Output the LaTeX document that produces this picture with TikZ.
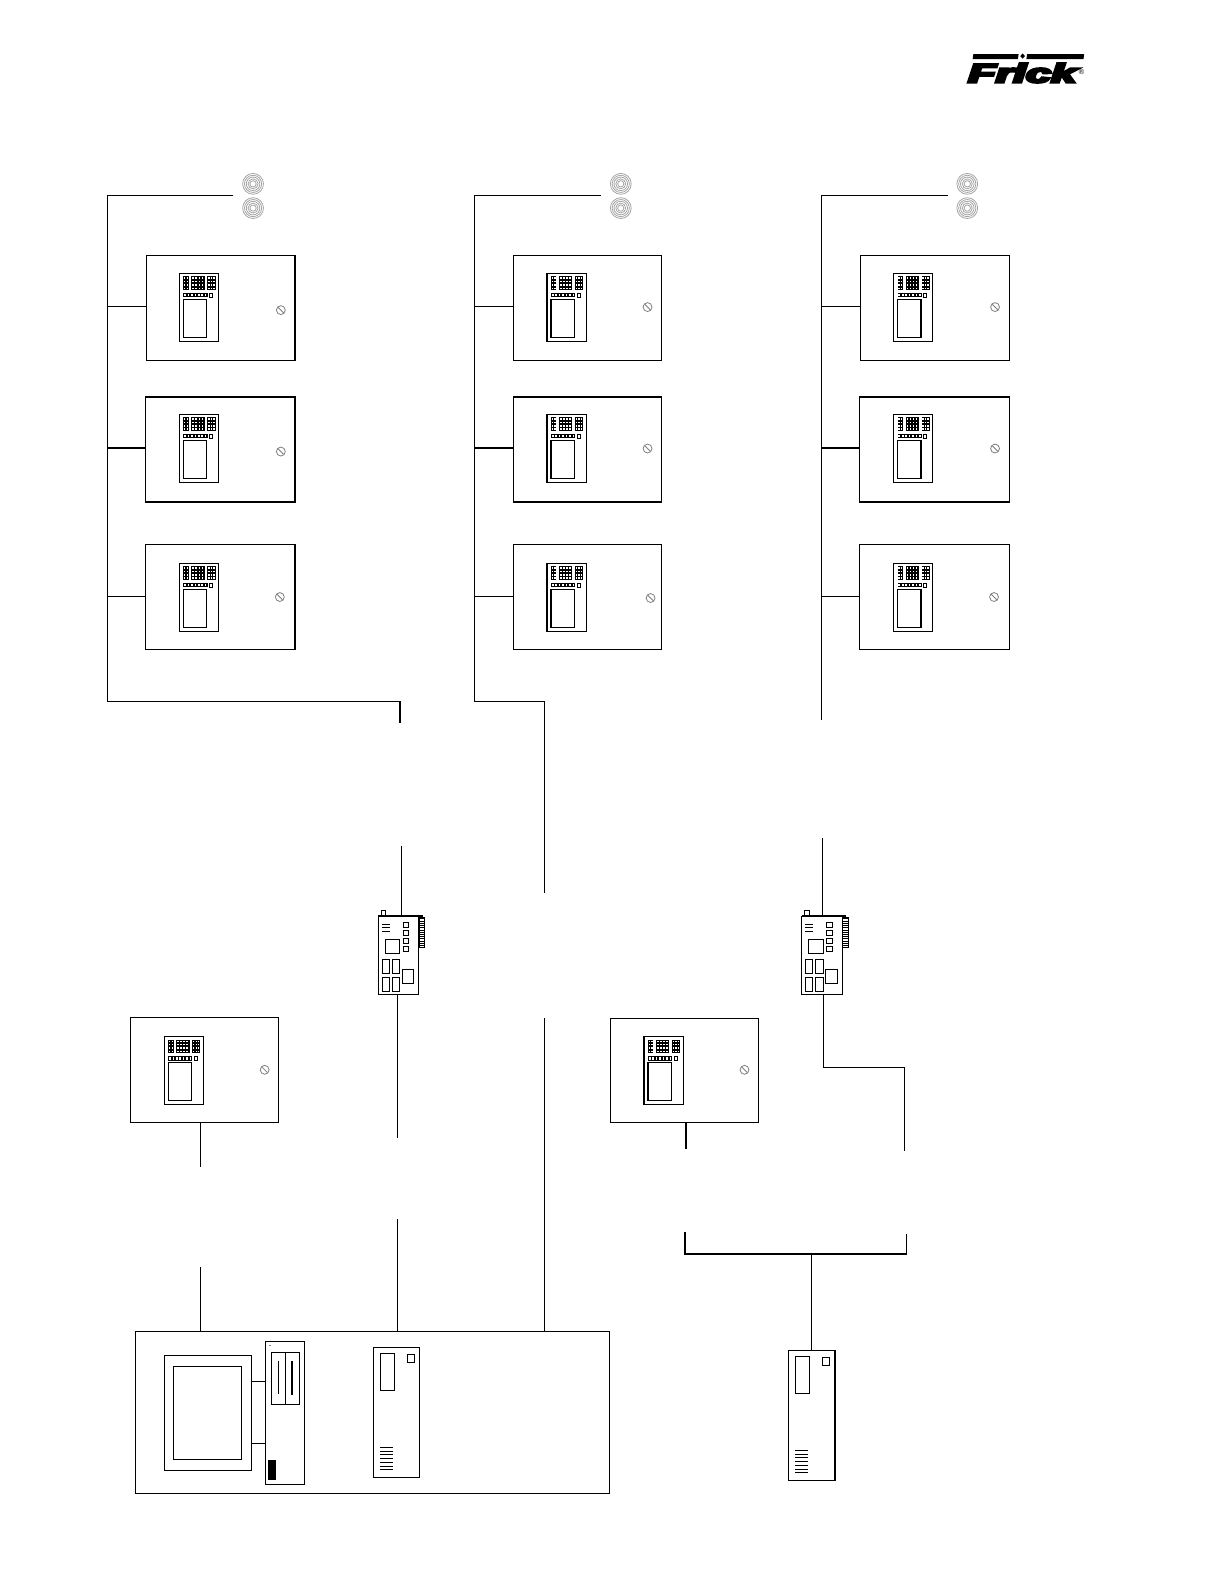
\documentclass[tikz,border=0pt]{standalone}
\usepackage{fontspec}
\newfontfamily\logofont[FakeBold=9]{Liberation Sans}
\newfontfamily\regfont{Liberation Sans}
\newlength\pxu
\setlength\pxu{0.50495pt}
\tikzset{
  ln/.style={line width=0.6pt,draw=black},
  thin part/.style={line width=0.5pt,draw=black,fill=white},
  boxnode/.style={rectangle,draw=black,line width=0.6pt,fill=white,inner sep=0pt,outer sep=0pt,anchor=north west},
  ring/.style={draw=black!35,line width=0.4pt},
  keypad/.pic={
    \draw[thin part,line width=0.6pt] (0,0) rectangle (38.9,67.3);
    % key blocks
    \fill[black] (4,3) rectangle (9.3,16.8);
    \foreach \cx in {4.9,7.3}\foreach \cy in {4.1,7.4,10.7,14}
      \fill[white] (\cx,\cy) rectangle +(1.1,1.5);
    \fill[black] (11.9,3) rectangle (25.1,16.8);
    \foreach \cx in {13,16,19,22}\foreach \cy in {4.1,7.4,10.7,14}
      \fill[white] (\cx,\cy) rectangle +(1.6,1.5);
    \fill[black] (27.7,3) rectangle (35.9,16.8);
    \foreach \cx in {28.6,31.1,33.6}\foreach \cy in {4.1,7.4,10.7,14}
      \fill[white] (\cx,\cy) rectangle +(1.3,1.5);
    % strip of buttons
    \fill[black] (4,19.8) rectangle (28,23.8);
    \foreach \cx in {4.9,8.3,11.7,15.1,18.5,21.9,25.3}
      \fill[white] (\cx,20.7) rectangle +(1.6,2.2);
    \draw[thin part] (29.7,20.1) rectangle (33,23.8);
    \draw[thin part,line width=0.6pt] (4,25.7) rectangle (27.1,63.4);
  },
  knobmark/.pic={
    \draw[draw=black!50,line width=0.4pt] (0,0) circle (4.4);
    \draw[draw=black!50,line width=0.4pt] (-2.8,-2.8) -- (2.8,2.8);
  },
  speakermark/.pic={
    \foreach \r in {10.3,8.5,6.7,4.9,3.1}\draw[ring] (0,0) circle (\r);
  },
  device/.pic={
    \fill[black] (0,-1.6) rectangle (43.9,0.4);
    \draw[thin part] (3,-6) rectangle (7.3,-1);
    \draw[thin part,line width=0.4pt] (40.4,1) rectangle (46,30.4);
    \foreach \s in {2.6,4.8,...,29} \draw[line width=0.4pt] (40.4,\s) -- (46,\s);
    \foreach \s in {8.3,11.6,15.2} \draw[line width=0.5pt] (3.7,\s) -- (11.6,\s);
    \foreach \s in {6.3,14.2,21.8,30} \draw[thin part] (24.8,\s) rectangle +(5.3,5);
    \draw[thin part] (6.9,23) rectangle (21.2,37.3);
    \draw[thin part] (4,42.9) rectangle (10.9,56.8);
    \draw[thin part] (13.9,42.9) rectangle (21.2,56.8);
    \draw[thin part] (4,60.8) rectangle (10.9,74.6);
    \draw[thin part] (13.9,60.8) rectangle (21.2,74.6);
    \draw[thin part] (23.8,52.8) rectangle (35,66.7);
  },
  tallunit/.pic={
    \draw[thin part] (6.6,6) rectangle (20.8,42);
    \draw[thin part] (33.3,7) rectangle (40.6,14.3);
    \foreach \s in {98.9,102.6,106.2,109.9,113.6,117.2,120.9}
      \draw[line width=0.5pt] (6.6,\s) -- (19.2,\s);
  }
}
\newcommand\panelunit[9]{%
  \node[boxnode,minimum width=#4\pxu,minimum height=#5\pxu] (#1) at (#2,#3) {};
  \path (#6,#7) pic {keypad};
  \path (#8,#9) pic {knobmark};
}
\begin{document}
\begin{tikzpicture}[x=1\pxu,y=-1\pxu]
\useasboundingbox[fill=white] (0,0) rectangle (1212,1568);

% Logo
\fill[black] (963.5,53.6) -- (1008.3,53.6) -- (1007.6,58.6) -- (962.8,58.6) -- cycle;
\fill[black] (1016.7,53.6) -- (1073.2,53.6) -- (1072.5,58.6) -- (1016,58.6) -- cycle;
\fill[black] (1012.3,52.9) -- (1014.6,55.5) -- (1012.3,58.1) -- (1010,55.5) -- cycle;
\node[inner sep=0pt,outer sep=0pt,anchor=north west] (logotext) at (958.3,62.8)
  {\resizebox{107\pxu}{18.8\pxu}{\logofont\bfseries\itshape Frick}};
\node[inner sep=0pt,outer sep=0pt] (logoreg) at (1070.6,71.6)
  {\regfont\fontsize{3.6pt}{3.6pt}\selectfont ®};

% Speakers
\foreach \sx in {250.5,614.5,957.5}{
  \path (\sx,182) pic {speakermark};
  \path (\sx,206) pic {speakermark};
}

% Panels: name, x, y, w, h, keypad x, y, knob x, y
\panelunit{p11}{145}{253}{147}{104}{177.5}{270.6}{278}{307}
\panelunit{p12}{144}{393}{148}{104}{177.5}{410}{278}{447}
\panelunit{p13}{144}{539}{148}{104}{177.5}{557.5}{277}{591}
\panelunit{p21}{508}{253}{147}{104}{541.5}{270.6}{641}{304}
\panelunit{p22}{508}{393}{147}{104}{541.5}{410}{641}{444}
\panelunit{p23}{508}{539}{147}{104}{541.5}{557.5}{644}{592}
\panelunit{p31}{852}{253}{147}{104}{884.5}{270.6}{985}{304}
\panelunit{p32}{851}{393}{148}{104}{884.5}{410}{985}{444}
\panelunit{p33}{851}{539}{148}{104}{884.5}{557.5}{984}{591}
\panelunit{p41}{129}{1007}{147}{104}{162.5}{1026}{262}{1059}
\panelunit{p42}{604}{1008}{147}{103}{637.5}{1026}{737}{1059}

% Gateway devices
\node[boxnode,minimum width=40\pxu,minimum height=77.5\pxu] (d1) at (374.6,907) {};
\path (374.6,907) pic {device};
\node[boxnode,minimum width=40\pxu,minimum height=77.5\pxu] (d2) at (793.6,907) {};
\path (793.6,907) pic {device};

% Computer enclosure
\node[boxnode,minimum width=469.5\pxu,minimum height=160\pxu] (encl) at (134,1318.3) {};
\node[boxnode,minimum width=86.5\pxu,minimum height=113.3\pxu] (mon) at (162.7,1342) {};
\draw[thin part,line width=0.6pt] (171.6,1352.9) rectangle (239.3,1444.4);
\node[boxnode,minimum width=39\pxu,minimum height=140.9\pxu] (tower) at (262.7,1328.2) {};
\draw[thin part,line width=0.6pt] (268.7,1339.1) rectangle (296.7,1390);
\draw[line width=0.6pt] (282.8,1339.1) -- (282.8,1390);
\draw[line width=0.5pt] (275.6,1347.3) -- (275.6,1380.3);
\draw[line width=1.0pt] (289.1,1347.3) -- (289.1,1381);
\fill[black] (265.4,1445.7) rectangle (273.3,1465.5);
\fill[black!50] (266.6,1331) rectangle (268.2,1332.6);
\node[boxnode,minimum width=45.5\pxu,minimum height=128.8\pxu] (u1) at (370,1334) {};
\path (370,1334) pic {tallunit};
\node[boxnode,minimum width=45.9\pxu,minimum height=128.8\pxu] (u2) at (780.6,1337) {};
\path (780.6,1337) pic {tallunit};

% Free ends and bends
\coordinate (a1) at (231,193.3);
\coordinate (a2) at (595,193.3);
\coordinate (a3) at (938,193.3);
\coordinate (c1) at (106.4,193.3);
\coordinate (c2) at (470,193.3);
\coordinate (c3) at (813,193.3);
\coordinate (e1) at (106.4,694.3);
\coordinate (e2) at (470,694.3);
\coordinate (f1) at (396,694.3);
\coordinate (f2) at (539,694.3);
\coordinate (g1) at (396,716);
\coordinate (g2) at (539,884);
\coordinate (g3) at (813,713);
\coordinate (t1) at (397.4,837);
\coordinate (t2) at (814,830);
\coordinate (l1) at (393.4,1126);
\coordinate (l2) at (393.4,1207);
\coordinate (l3) at (539,1008);
\coordinate (l4) at (198.4,1155);
\coordinate (l5) at (198.4,1254);
\coordinate (l6) at (679,1137);
\coordinate (m1) at (815.5,1057);
\coordinate (m2) at (895,1057);
\coordinate (m3) at (895,1139);
\coordinate (n1) at (678,1220);
\coordinate (n2) at (678,1241.4);
\coordinate (n3) at (897,1241.4);
\coordinate (n4) at (897,1222);
\coordinate (n5) at (803,1241.4);
\coordinate (q1) at (393.4,984);
\coordinate (q2) at (815.5,984);

% Buses
\draw[ln] (a1) -- (c1) -- (e1) -- (f1) -- (g1);
\draw[ln] (a2) -- (c2) -- (e2) -- (f2) -- (g2);
\draw[ln] (a3) -- (c3) -- (g3);
% Branches
\foreach \bx/\py/\pn in {106.4/303.5/p11,106.4/443.5/p12,106.4/590.5/p13,470/303.5/p21,470/443.5/p22,470/590.5/p23,813/303.5/p31,813/443.5/p32,813/590.5/p33}{
  \coordinate (br) at (\bx,\py);
  \draw[ln] (br) -- (br -| \pn.west);
}
% Verticals
\draw[ln] (t1) -- (t1 |- d1.north);
\draw[ln] (t2) -- (t2 |- d2.north);
\draw[ln] (q1) -- (l1);
\draw[ln] (l2) -- (l2 |- encl.north);
\draw[ln] (l3) -- (l3 |- encl.north);
\draw[ln] (l4 |- p41.south) -- (l4);
\draw[ln] (l5) -- (l5 |- encl.north);
\draw[ln] (l6 |- p42.south) -- (l6);
\draw[ln] (q2) -- (m1) -- (m2) -- (m3);
\draw[ln] (n1) -- (n2) -- (n3) -- (n4);
\draw[ln] (n5) -- (n5 |- u2.north);
% Monitor to tower
\coordinate (k1) at (249.2,1367.8);
\coordinate (k2) at (249.2,1429.2);
\draw[ln] (k1) -- (k1 -| tower.west);
\draw[ln] (k2) -- (k2 -| tower.west);
\end{tikzpicture}
\end{document}
